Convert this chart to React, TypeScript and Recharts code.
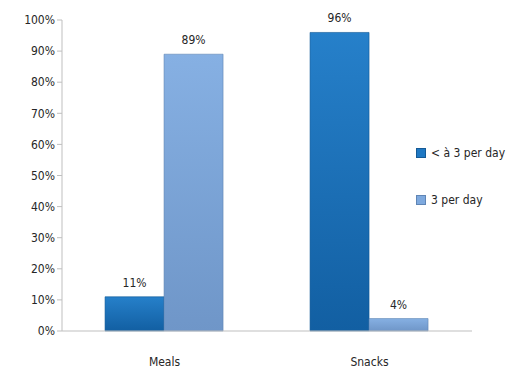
import { BarChart, Bar, XAxis, YAxis, Legend, LabelList } from 'recharts';

const categories = ['Meals', 'Snacks'];
const lessThan3 = [11, 96];
const threePerDay = [89, 4];
const yTicks = [0, 10, 20, 30, 40, 50, 60, 70, 80, 90, 100];

const seriesNames = ['< à 3 per day', '3 per day'];
const colors = ['#1F78C3', '#7EA9DE'];

const data = categories.map((c, i) => ({
  name: c,
  a: lessThan3[i],
  b: threePerDay[i],
}));

const font = '"DejaVu Sans Condensed", "Liberation Sans Narrow", "Liberation Sans", Arial, sans-serif';

function LegendBox() {
  return (
    <div style={{ fontFamily: font, fontSize: 12, color: '#262626' }}>
      {seriesNames.map((n, i) => (
        <div key={n} style={{ display: 'flex', alignItems: 'center', height: 20, marginBottom: i === 0 ? 27 : 0 }}>
          <span
            style={{
              display: 'inline-block',
              width: 8,
              height: 8,
              marginRight: 5,
              background: colors[i],
              border: '1px solid ' + (i === 0 ? '#155a96' : '#5f85b5'),
            }}
          />
          {n}
        </div>
      ))}
    </div>
  );
}

export default function App() {
  return (
    <div style={{ position: 'absolute', left: 0, top: 0, background: '#fff' }}>
      <BarChart
        width={514}
        height={368}
        data={data}
        margin={{ top: 20, right: 42, left: 0, bottom: 7 }}
        barGap={0}
        barCategoryGap="21%"
      >
        <defs>
          <linearGradient id="gDark" x1="0" y1="0" x2="0" y2="1">
            <stop offset="0%" stopColor="#2680CA" />
            <stop offset="100%" stopColor="#125FA2" />
          </linearGradient>
          <linearGradient id="gLight" x1="0" y1="0" x2="0" y2="1">
            <stop offset="0%" stopColor="#86B0E3" />
            <stop offset="100%" stopColor="#6F96C8" />
          </linearGradient>
        </defs>
        <XAxis
          dataKey="name"
          height={30}
          tickLine={false}
          axisLine={{ stroke: '#BFBFBF' }}
          tick={{ fill: '#262626', fontSize: 12, fontFamily: font }}
          dy={18}
        />
        <YAxis
          width={62}
          domain={[0, 100]}
          ticks={yTicks}
          interval={0}
          tickFormatter={(v: number) => `${v}%`}
          axisLine={{ stroke: '#BFBFBF' }}
          tickLine={{ stroke: '#BFBFBF' }}
          tickSize={5}
          tick={{ fill: '#262626', fontSize: 12, fontFamily: font }}
        />
        <Legend
          layout="vertical"
          align="center"
          verticalAlign="middle"
          wrapperStyle={{ left: 416, top: 143, width: 98 }}
          content={() => <LegendBox />}
        />
        <Bar dataKey="a" name={seriesNames[0]} fill="url(#gDark)" stroke="#0E5896" strokeWidth={0.6} isAnimationActive={false}>
          <LabelList
            dataKey="a"
            position="top"
            offset={10}
            formatter={(v: number) => `${v}%`}
            style={{ fill: '#262626', fontSize: 12, fontFamily: font }}
          />
        </Bar>
        <Bar dataKey="b" name={seriesNames[1]} fill="url(#gLight)" stroke="#5E84B4" strokeWidth={0.6} isAnimationActive={false}>
          <LabelList
            dataKey="b"
            position="top"
            offset={10}
            formatter={(v: number) => `${v}%`}
            style={{ fill: '#262626', fontSize: 12, fontFamily: font }}
          />
        </Bar>
      </BarChart>
    </div>
  );
}
